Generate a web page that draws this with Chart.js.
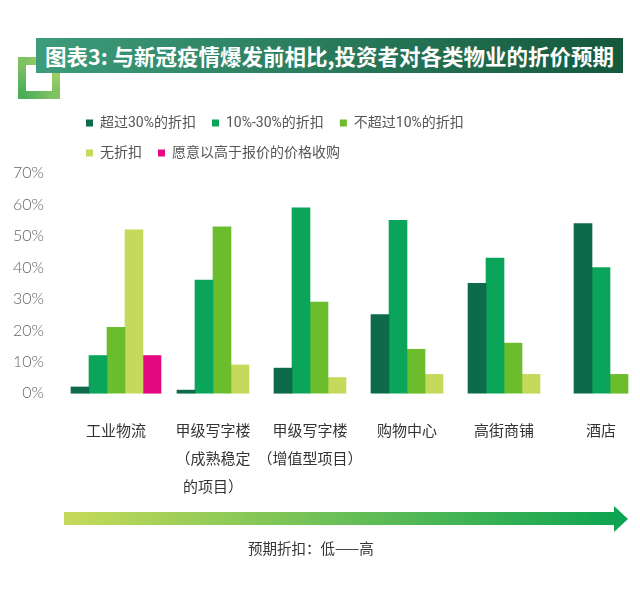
<!DOCTYPE html>
<html>
<head>
<meta charset="utf-8">
<script src="https://cdn.jsdelivr.net/npm/chart.js@4"></script>
<style>
  html, body { margin: 0; padding: 0; background: #fff; }
  body { width: 640px; height: 595px; position: relative; overflow: hidden; font-family: "Noto Sans CJK SC", sans-serif; }
  #chart { position: absolute; left: 0; top: 0; }
  .deco { position: absolute; left: 18px; top: 57px; width: 42px; height: 42px; box-sizing: border-box;
          border: 8px solid; border-image: linear-gradient(45deg, #4dae58, #b2d66c) 1; }
  .banner { position: absolute; left: 36px; top: 38px; width: 587px; height: 35px; box-sizing: border-box; padding-left: 9px;
            background: linear-gradient(90deg, #3d9c7b, #15583c); color: #fff; font-weight: 700; font-size: 21.5px;
            line-height: 35px; white-space: nowrap; }
  #arrow { position: absolute; left: 0; top: 500px; }
  .note { position: absolute; left: 248px; top: 538px; font-size: 14.5px; line-height: 20px; color: #333; }
</style>
</head>
<body>
<canvas id="chart" width="640" height="595"></canvas>
<div class="deco"></div>
<div class="banner">图表3: 与新冠疫情爆发前相比,投资者对各类物业的折价预期</div>
<svg id="arrow" width="640" height="40">
  <defs>
    <linearGradient id="arrowFill" x1="64" x2="628" y1="0" y2="0" gradientUnits="userSpaceOnUse">
      <stop offset="0" stop-color="#c6da5a"/>
      <stop offset="1" stop-color="#0aa352"/>
    </linearGradient>
  </defs>
  <polygon points="64,12 614,12 614,6 628,19 614,32 614,25 64,25" fill="url(#arrowFill)"/>
</svg>
<div class="note">预期折扣：低——高</div>

<script>
const categories = [
  '工业物流',
  ['甲级写字楼', '（成熟稳定', '的项目）'],
  ['甲级写字楼', '（增值型项目）'],
  '购物中心',
  '高街商铺',
  '酒店'
];
const seriesNames = ['超过30%的折扣', '10%-30%的折扣', '不超过10%的折扣', '无折扣', '愿意以高于报价的价格收购'];
const over30 = [2, 1, 8, 25, 35, 54];
const from10to30 = [12, 36, 59, 55, 43, 40];
const under10 = [21, 53, 29, 14, 16, 6];
const noDiscount = [52, 9, 5, 6, 6, null];
const premium = [12, null, null, null, null, null];
const yTicks = ['0%', '10%', '20%', '30%', '40%', '50%', '60%', '70%'];
const colors = ['#0d6b4b', '#0aa55a', '#6cbd2e', '#c5d95b', '#e4097f'];

const series = [over30, from10to30, under10, noDiscount, premium];

const datasets = series.map((vals, k) => ({
  label: seriesNames[k],
  data: vals.map((v, i) => ({ x: i, y: v })),
  backgroundColor: colors[k],
  barThickness: 18,
  skipNull: true,
  clip: false
}));

new Chart(document.getElementById('chart'), {
  type: 'bar',
  data: { datasets: datasets },
  options: {
    responsive: false,
    animation: false,
    events: [],
    layout: { padding: { left: 10, right: 110, top: 100, bottom: 79.5 } },
    scales: {
      x: {
        type: 'linear',
        offset: false,
        min: -0.474,
        max: 4.268,
        grid: { display: false },
        border: { display: false },
        afterBuildTicks: function(axis) {
          axis.ticks = categories.map((c, i) => ({ value: i }));
        },
        afterFit: function(axis) {
          // the last group sits past the axis max; keep the label overhang out of the layout
          axis.paddingLeft = 0;
          axis.paddingRight = 0;
        },
        ticks: {
          autoSkip: false,
          maxRotation: 0,
          padding: 15.5,
          color: '#333',
          font: { family: '"Noto Sans CJK SC"', size: 15, lineHeight: 1.85 },
          callback: function(value, index) {
            return categories[index];
          }
        }
      },
      y: {
        min: 0,
        max: 71.05,
        grid: { display: false },
        border: { display: false },
        afterBuildTicks: function(axis) {
          axis.ticks = yTicks.map((t, i) => ({ value: i * 10 }));
        },
        afterFit: function(axis) {
          axis.width = 60;
        },
        ticks: {
          padding: 18,
          color: '#666',
          font: { family: 'Lato, "Noto Sans CJK SC"', size: 16, weight: 300 },
          callback: function(value, index) {
            return yTicks[index];
          }
        }
      }
    },
    plugins: {
      tooltip: { enabled: false },
      legend: {
        position: 'top',
        align: 'start',
        fullSize: false,
        labels: {
          boxWidth: 7,
          boxHeight: 7,
          padding: 16,
          color: '#555',
          font: { family: 'Roboto, "Noto Sans CJK SC"', size: 14 }
        }
      }
    }
  }
});
</script>
</body>
</html>
